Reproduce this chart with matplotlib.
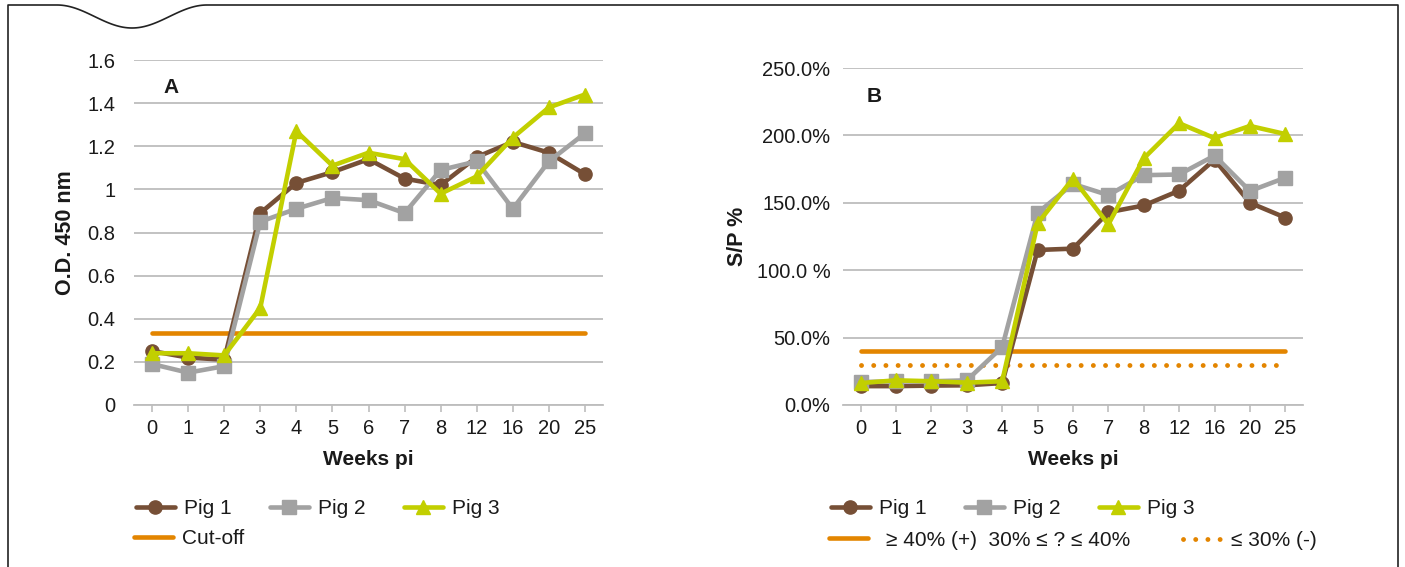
import matplotlib
matplotlib.use("Agg")
import matplotlib.pyplot as plt
import numpy as np
from matplotlib.lines import Line2D

plt.rcParams['font.family'] = ['Liberation Sans', 'DejaVu Sans']

# data
weeks = ['0', '1', '2', '3', '4', '5', '6', '7', '8', '12', '16', '20', '25']

od_pig1 = [0.25, 0.22, 0.21, 0.89, 1.03, 1.08, 1.14, 1.05, 1.02, 1.15, 1.22, 1.17, 1.07]
od_pig2 = [0.19, 0.15, 0.18, 0.85, 0.91, 0.96, 0.95, 0.89, 1.09, 1.13, 0.91, 1.13, 1.26]
od_pig3 = [0.24, 0.24, 0.23, 0.45, 1.27, 1.11, 1.17, 1.14, 0.98, 1.06, 1.24, 1.38, 1.44]
od_cutoff = 0.336

sp_pig1 = [14, 14, 14.4, 14.6, 16.3, 115, 116, 143, 148, 159, 182, 150, 139]
sp_pig2 = [17, 17.6, 17.6, 18.3, 43, 142.6, 164, 155.7, 170.5, 171, 185, 158.7, 168.6]
sp_pig3 = [16.3, 18.3, 17.6, 16.6, 17.6, 134.7, 168, 134, 183, 209, 198, 207, 201]
sp_pos = 40
sp_neg = 30

od_ticks = [0, 0.2, 0.4, 0.6, 0.8, 1, 1.2, 1.4, 1.6]
od_labels = ['0', '0.2', '0.4', '0.6', '0.8', '1', '1.2', '1.4', '1.6']
sp_ticks = [0, 50, 100, 150, 200, 250]
sp_labels = ['0.0%', '50.0%', '100.0 %', '150.0%', '200.0%', '250.0%']

brown = '#764F36'
grey = '#A2A2A2'
green = '#C2CF00'
orange = '#E38500'
gridc = '#BDBDBD'
txt = '#1a1a1a'

W, H = 1405, 567
fig = plt.figure(figsize=(W / 100, H / 100), dpi=100)

def px(x0, y0, x1, y1):
    return [x0 / W, 1 - y1 / H, (x1 - x0) / W, (y1 - y0) / H]

axA = fig.add_axes(px(134, 60, 603, 405))
axB = fig.add_axes(px(843, 68, 1303, 405))

xpos = np.arange(len(weeks))
dots = (0, (0.01, 2.5))

def style(ax, ticks, labels, ylim, ypad):
    ax.set_xlim(-0.5, len(weeks) - 0.5)
    ax.set_ylim(*ylim)
    ax.set_yticks(ticks)
    ax.set_yticklabels(labels)
    ax.set_xticks(xpos)
    ax.set_xticklabels(weeks)
    ax.grid(axis='y', color=gridc, lw=1.3)
    ax.set_axisbelow(True)
    for s in ['top', 'right', 'left']:
        ax.spines[s].set_visible(False)
    ax.spines['bottom'].set_color(gridc)
    ax.spines['bottom'].set_linewidth(1.3)
    ax.tick_params(axis='y', length=0, pad=ypad, labelsize=14.5, labelcolor=txt)
    ax.tick_params(axis='x', length=5, color=gridc, width=1.2, pad=5,
                   labelsize=14.5, labelcolor=txt)
    ax.set_xlabel('Weeks pi', fontsize=15, fontweight='bold', color=txt, labelpad=9)

line_kw = dict(lw=3.3, markersize=9.5, clip_on=False)

# chart A
axA.plot(xpos, [od_cutoff] * len(weeks), color=orange, lw=3.3,
         solid_capstyle='round')
axA.plot(xpos, od_pig1, color=brown, marker='o', **line_kw)
axA.plot(xpos, od_pig2, color=grey, marker='s', **line_kw)
axA.plot(xpos, od_pig3, color=green, marker='^', **line_kw)
style(axA, od_ticks, od_labels, (0, 1.6), 13.5)
axA.set_ylabel('O.D. 450 nm', fontsize=15.5, fontweight='bold', color=txt, labelpad=8)
axA.text(0.062, 0.92, 'A', transform=axA.transAxes, fontsize=15,
         fontweight='bold', color=txt, va='center')

# chart B
axB.plot(xpos, [sp_pos] * len(weeks), color=orange, lw=3.3,
         solid_capstyle='round')
axB.plot(xpos, [sp_neg] * len(weeks), color=orange, lw=3.5,
         linestyle=dots, dash_capstyle='round')
axB.plot(xpos, sp_pig1, color=brown, marker='o', **line_kw)
axB.plot(xpos, sp_pig2, color=grey, marker='s', **line_kw)
axB.plot(xpos, sp_pig3, color=green, marker='^', **line_kw)
style(axB, sp_ticks, sp_labels, (0, 250), 9)
axB.set_ylabel('S/P %', fontsize=15.5, fontweight='bold', color=txt, labelpad=6)
axB.text(0.052, 0.915, 'B', transform=axB.transAxes, fontsize=15,
         fontweight='bold', color=txt, va='center')

# legends
h1 = Line2D([], [], color=brown, marker='o', lw=3.3, markersize=9.5, solid_capstyle='round')
h2 = Line2D([], [], color=grey, marker='s', lw=3.3, markersize=9.5, solid_capstyle='round')
h3 = Line2D([], [], color=green, marker='^', lw=3.3, markersize=9.5, solid_capstyle='round')
hc = Line2D([], [], color=orange, lw=3.3, solid_capstyle='round')
hd = Line2D([], [], color=orange, lw=3.5, linestyle=dots, dash_capstyle='round')

leg_kw = dict(frameon=False, fontsize=15, handlelength=1.85, handletextpad=0.45,
              borderaxespad=0, borderpad=0, labelcolor=txt)

fig.legend([h1, h2, h3], ['Pig 1', 'Pig 2', 'Pig 3'], loc='center left',
           bbox_to_anchor=(136 / W, 1 - 509 / H), ncol=3, columnspacing=1.85, **leg_kw)
fig.legend([hc], ['Cut-off'], loc='center left',
           bbox_to_anchor=(134 / W, 1 - 539 / H), **leg_kw)
fig.legend([h1, h2, h3], ['Pig 1', 'Pig 2', 'Pig 3'], loc='center left',
           bbox_to_anchor=(831 / W, 1 - 509 / H), ncol=3, columnspacing=1.85, **leg_kw)
fig.legend([hc], ['\u2265 40% (+)  30% \u2264 ? \u2264 40%'], loc='center left',
           bbox_to_anchor=(829 / W, 1 - 540 / H), **dict(leg_kw, handletextpad=0.9))
fig.legend([hd], ['\u2264 30% (-)'], loc='center left',
           bbox_to_anchor=(1183 / W, 1 - 541 / H), **leg_kw)

# frame with the notch at the top left
t = np.linspace(0, 1, 80)
cx = 57 + 150 * t
cy = 5 + 23 * (1 - np.cos(2 * np.pi * t)) / 2
fx = np.concatenate([[8, 8], cx, [1398, 1398]])
fy = np.concatenate([[H, 5], cy, [5, H]])
fig.add_artist(Line2D(fx / W, 1 - fy / H, color='#222222', lw=1.2))

fig.savefig('out.png', dpi=100)
